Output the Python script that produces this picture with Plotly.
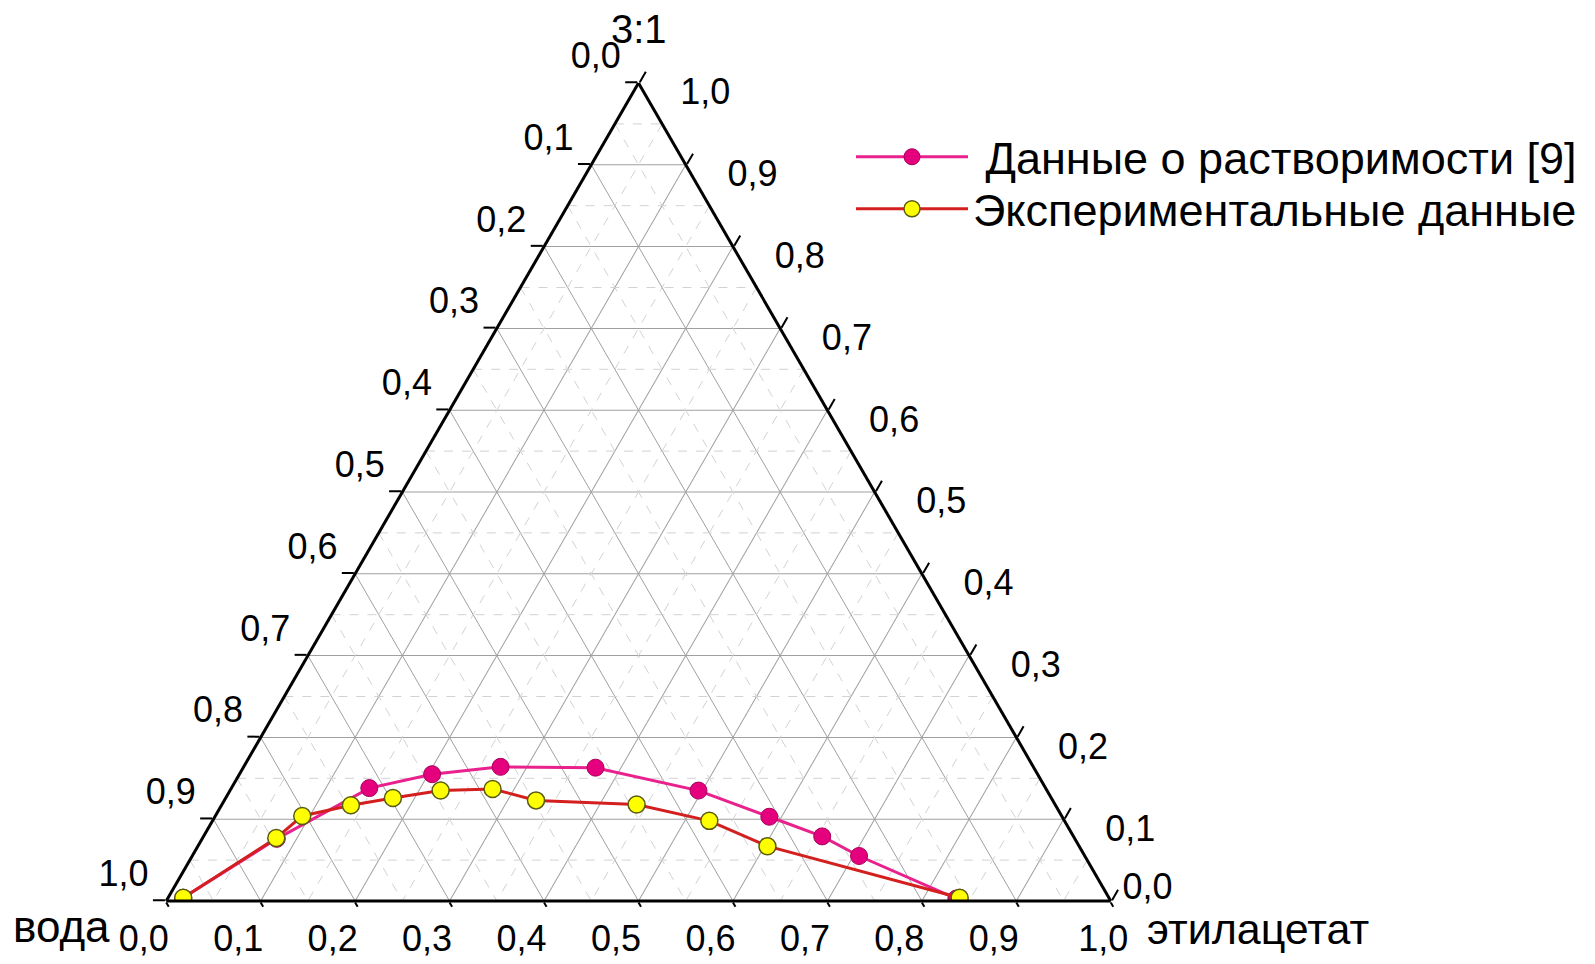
import plotly.graph_objects as go

FONT = "Liberation Sans, Arial, sans-serif"

# ---- Data (ternary fractions): a = "3:1", c = "этилацетат", b = "вода" = 1 - a - c
sol_a = [0.004, 0.076, 0.138, 0.155, 0.164, 0.163, 0.135, 0.103, 0.079, 0.055, 0.003]
sol_c = [0.016, 0.079, 0.146, 0.204, 0.272, 0.373, 0.496, 0.587, 0.655, 0.706, 0.835]
exp_a = [0.004, 0.077, 0.104, 0.117, 0.126, 0.135, 0.137, 0.123, 0.118, 0.098, 0.067, 0.004]
exp_c = [0.016, 0.078, 0.092, 0.137, 0.177, 0.223, 0.277, 0.330, 0.439, 0.526, 0.603, 0.838]

tick_vals = [0.0, 0.1, 0.2, 0.3, 0.4, 0.5, 0.6, 0.7, 0.8, 0.9, 1.0]
tick_text = ["1,0", "0,9", "0,8", "0,7", "0,6", "0,5", "0,4", "0,3", "0,2", "0,1", "0,0"]
minor_vals = [0.05, 0.15, 0.25, 0.35, 0.45, 0.55, 0.65, 0.75, 0.85, 0.95]

series_names = ["Данные о растворимости [9]", "Экспериментальные данные"]
corner_titles = ["3:1", "вода", "этилацетат"]

sol_b = [1 - a - c for a, c in zip(sol_a, sol_c)]
exp_b = [1 - a - c for a, c in zip(exp_a, exp_c)]

NB = "\u00a0"
left_text = [t + "<br>" + NB for t in tick_text]           # left edge labels, lifted a bit
bottom_text = [t + NB * 5 for t in tick_text[1:]]           # bottom labels, nudged left
bottom_text = [tick_text[0] + NB * 2] + bottom_text         # (b=0 is the "1,0" at the right corner)
right_text = ["<br>" + NB * 3 + t for t in tick_text[:-1]] + [tick_text[-1]]  # right edge labels

# triangle placement (px)
DOM_L, DOM_R, DOM_T, DOM_B = 158, 1103, 75, 893
W, H = 1595, 964

fig = go.Figure()

# minor dashed grid (0.05 steps)
fam = {"a": ([], [], []), "b": ([], [], []), "c": ([], [], [])}
for v in minor_vals:
    A, B, C = fam["a"]
    A += [v, v, None]; B += [1 - v, 0, None]; C += [0, 1 - v, None]
    A, B, C = fam["b"]
    A += [1 - v, 0, None]; B += [v, v, None]; C += [0, 1 - v, None]
    A, B, C = fam["c"]
    A += [1 - v, 0, None]; B += [0, 1 - v, None]; C += [v, v, None]
for k, (A, B, C) in fam.items():
    fig.add_trace(go.Scatterternary(
        a=A, b=B, c=C, mode="lines", showlegend=False, hoverinfo="skip",
        line=dict(color="#d2d2d2", width=1, dash="dash")))

fig.add_trace(go.Scatterternary(
    a=sol_a, b=sol_b, c=sol_c, mode="lines+markers", name=NB + series_names[0],
    line=dict(color="#e8218c", width=3),
    marker=dict(size=17, color="#e5007d", line=dict(color="#a8005a", width=1)),
    legend="legend",
))
fig.add_trace(go.Scatterternary(
    a=exp_a, b=exp_b, c=exp_c, mode="lines+markers", name=series_names[1],
    line=dict(color="#d41f1f", width=3),
    marker=dict(size=17, color="#ffff00", line=dict(color="#5a5a10", width=1.5)),
    legend="legend2",
))


def axis(text, ticklen):
    return dict(
        min=0, tickmode="array", tickvals=tick_vals, ticktext=text,
        ticks="outside", ticklen=ticklen, tickwidth=2, tickcolor="black",
        linecolor="black", linewidth=3, showline=True,
        showgrid=True, gridcolor="#a0a0a0", gridwidth=1.3,
        tickfont=dict(size=36, color="black", family=FONT),
        layer="above traces",
        title=dict(text=NB),
    )


legend_common = dict(
    x=843 / W, xanchor="left", yanchor="middle",
    font=dict(size=45, family=FONT, color="black"),
    bgcolor="rgba(0,0,0,0)", itemwidth=112, tracegroupgap=0,
)

fig.update_layout(
    width=W, height=H,
    margin=dict(l=0, r=0, t=0, b=0),
    paper_bgcolor="white",
    font=dict(family=FONT, color="black"),
    ternary=dict(
        domain=dict(x=[DOM_L / W, DOM_R / W], y=[(H - DOM_B) / H, (H - DOM_T) / H]),
        bgcolor="white",
        sum=1,
        aaxis=axis(left_text, 12),
        baxis=axis(bottom_text, 5),
        caxis=axis(right_text, 12),
    ),
    legend=dict(**legend_common, y=1 - 149 / H),
    legend2=dict(**legend_common, y=1 - 201 / H),
    annotations=[
        dict(text=corner_titles[0], xref="paper", yref="paper", x=(DOM_L + DOM_R) / 2 / W, y=1 - 21 / H,
             xanchor="center", yanchor="middle", showarrow=False,
             font=dict(size=40, family=FONT, color="black")),
        dict(text=corner_titles[1], xref="paper", yref="paper", x=104 / W, y=1 - 918 / H,
             xanchor="right", yanchor="middle", showarrow=False,
             font=dict(size=44, family=FONT, color="black")),
        dict(text=corner_titles[2], xref="paper", yref="paper", x=1137 / W, y=1 - 921 / H,
             xanchor="left", yanchor="middle", showarrow=False,
             font=dict(size=43, family=FONT, color="black")),
    ],
    shapes=[
        dict(type="rect", xref="paper", yref="paper", x0=1583 / W, x1=1, y0=0, y1=1,
             fillcolor="#a3d3e0", line=dict(width=0), layer="below"),
    ],
)

fig.write_html("out.html")
